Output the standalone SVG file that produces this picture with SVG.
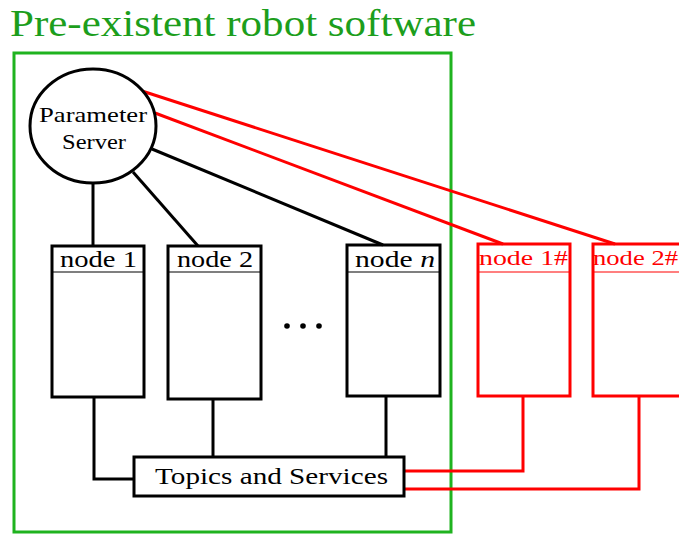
<svg xmlns="http://www.w3.org/2000/svg" width="679" height="534" viewBox="0 0 679 534">
<style>
.k{fill:none;stroke:#000;stroke-width:3}
.r{fill:none;stroke:#ff0000;stroke-width:3}
.sep{stroke:#000;stroke-width:1.2}
.sepr{stroke:#ff0000;stroke-width:1.2}
.t{font-family:"Liberation Serif","DejaVu Serif",serif;fill:#000}
.tr{font-family:"Liberation Serif","DejaVu Serif",serif;fill:#ff0000}
</style>
<rect width="679" height="534" fill="#fff"/>
<text x="10" y="36" class="t" style="fill:#1c9e1c" font-size="38" textLength="466" lengthAdjust="spacingAndGlyphs">Pre-existent robot software</text>
<rect id="container" x="14" y="53" width="437" height="479" fill="none" stroke="#1fb31f" stroke-width="3"/>
<g id="connectors">
<line class="k" x1="93" y1="183" x2="93" y2="246"/>
<line class="k" x1="133" y1="172" x2="198" y2="246"/>
<line class="k" x1="152" y1="149" x2="383" y2="245"/>
<line class="r" x1="142" y1="91" x2="615" y2="244"/>
<line class="r" x1="155" y1="113" x2="503" y2="244"/>
<polyline class="k" points="94,397 94,479 134,479"/>
<line class="k" x1="213" y1="399" x2="213" y2="457"/>
<line class="k" x1="386" y1="396" x2="386" y2="457"/>
<polyline class="r" points="404,471 523,471 523,396"/>
<polyline class="r" points="404,489 639,489 639,396"/>
</g>
<g id="param-server">
<ellipse cx="93" cy="126" rx="63" ry="57" fill="#fff" stroke="#000" stroke-width="3"/>
<text x="93" y="122" class="t" font-size="22" text-anchor="middle" textLength="108" lengthAdjust="spacingAndGlyphs">Parameter</text>
<text x="94" y="149" class="t" font-size="22" text-anchor="middle" textLength="64" lengthAdjust="spacingAndGlyphs">Server</text>
</g>
<g id="node1">
<rect class="k" x="52" y="246" width="92" height="151"/>
<line class="sep" x1="52" y1="272" x2="144" y2="272"/>
<text x="60" y="267" class="t" font-size="23" textLength="77" lengthAdjust="spacingAndGlyphs">node 1</text>
</g>
<g id="node2">
<rect class="k" x="168" y="246" width="93" height="153"/>
<line class="sep" x1="168" y1="272" x2="261" y2="272"/>
<text x="177" y="267" class="t" font-size="23" textLength="76" lengthAdjust="spacingAndGlyphs">node 2</text>
</g>
<g id="noden">
<rect class="k" x="347" y="245" width="93" height="151"/>
<line class="sep" x1="347" y1="272" x2="440" y2="272"/>
<text x="355" y="267" class="t" font-size="23" textLength="80" lengthAdjust="spacingAndGlyphs">node <tspan font-style="italic">n</tspan></text>
</g>
<g id="ellipsis">
<circle cx="287" cy="326" r="2.8" fill="#000"/>
<circle cx="303" cy="326" r="2.8" fill="#000"/>
<circle cx="319" cy="326" r="2.8" fill="#000"/>
</g>
<g id="node1h">
<rect class="r" x="478" y="244" width="92" height="152"/>
<line class="sepr" x1="478" y1="272" x2="570" y2="272"/>
<text x="479" y="265" class="tr" font-size="22" textLength="89" lengthAdjust="spacingAndGlyphs">node 1#</text>
</g>
<g id="node2h">
<polyline class="r" points="681,244 593,244 593,396 681,396"/>
<line class="sepr" x1="593" y1="272" x2="679" y2="272"/>
<text x="593" y="265" class="tr" font-size="22" textLength="85" lengthAdjust="spacingAndGlyphs">node 2#</text>
</g>
<g id="topics">
<rect class="k" x="134" y="457" width="270" height="39" fill="#fff"/>
<text x="155" y="484" class="t" font-size="24" textLength="233" lengthAdjust="spacingAndGlyphs">Topics and Services</text>
</g>
</svg>
